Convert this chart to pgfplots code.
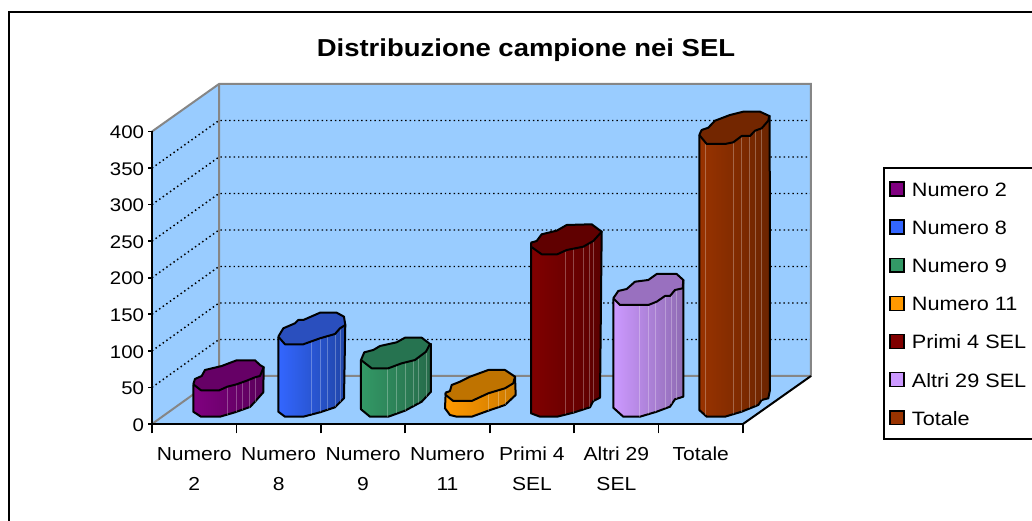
\documentclass[border=0pt]{standalone}
\usepackage{fontspec}
\usepackage{pgfplots}
\pgfplotsset{compat=1.18}
\setmainfont{Liberation Sans}[FakeStretch=1.12]

\definecolor{wall}{HTML}{99CCFF}
\definecolor{edge}{HTML}{868686}
\definecolor{nA}{HTML}{800080}\definecolor{nAd}{HTML}{5A005A}\definecolor{nAt}{HTML}{660066}
\definecolor{nB}{HTML}{3366FF}\definecolor{nBd}{HTML}{2046A8}\definecolor{nBt}{HTML}{2A4FBE}
\definecolor{nC}{HTML}{339966}\definecolor{nCd}{HTML}{266B4A}\definecolor{nCt}{HTML}{267350}
\definecolor{nD}{HTML}{FF9900}\definecolor{nDd}{HTML}{CC7A00}\definecolor{nDt}{HTML}{BF7300}
\definecolor{nE}{HTML}{800000}\definecolor{nEd}{HTML}{5A0000}\definecolor{nEt}{HTML}{600000}
\definecolor{nF}{HTML}{CC99FF}\definecolor{nFd}{HTML}{8F6BB3}\definecolor{nFt}{HTML}{9970BF}
\definecolor{nG}{HTML}{993300}\definecolor{nGd}{HTML}{6B2400}\definecolor{nGt}{HTML}{732600}

% bars and walls are traced in picture pixels, the px style maps them on the value axes
\pgfplotsset{
  px/.style={x filter/.expression={(x-152)/84.43}, y filter/.expression={(424-y)/0.7313}, forget plot},
  wallface/.style={px, fill=wall, draw=none},
  walledge/.style={px, draw=edge, line width=1.5pt},
  griddot/.style={px, black, line width=1.1pt, dash pattern=on 1.1pt off 2.2pt},
  side/.style 2 args={px, left color=#1, right color=#2, draw=black, line width=1.5pt, line join=round},
  cap/.style={px, fill=#1, draw=black, line width=1.5pt, line join=round},
  facet/.style={px, draw=#1, line width=0.45pt, opacity=0.28},
}
\newcommand{\fct}[4]{\addplot[facet=#1] coordinates {(#2,#3) (#2,#4)};}

\begin{document}
\begin{tikzpicture}
\useasboundingbox (0,0) rectangle (774pt,390.75pt);
\draw[black, line width=1.6pt] (7pt,-20pt) rectangle (790pt,381.5pt);
\node[font=\bfseries\fontsize{18.4pt}{20pt}\selectfont, anchor=center] at (394.5pt,353pt) {Distribuzione campione nei SEL};
\begin{axis}[
  at={(114pt,72.75pt)}, anchor=south west,
  scale only axis, width=443.25pt, height=219.4pt,
  xmin=0, xmax=7, ymin=0, ymax=400,
  clip=false, axis on top,
  axis lines=left, axis line style={-, black, line width=1.5pt},
  xtick={0.5,1.5,2.5,3.5,4.5,5.5,6.5},
  xticklabels={{Numero\\2},{Numero\\8},{Numero\\9},{Numero\\11},{Primi 4\\SEL},{Altri 29\\SEL},{Totale}},
  minor xtick={0,1,2,3,4,5,6,7},
  ytick={0,50,100,150,200,250,300,350,400},
  tick align=outside,
  tick style={black, line width=1.2pt},
  major tick length=3pt,
  minor tick length=7pt,
  x tick style={draw=none},
  minor x tick style={draw=black, line width=1.2pt},
  x tick label style={align=center, anchor=north, yshift=-11pt, font=\fontsize{14.1pt}{22.5pt}\selectfont},
  y tick label style={font=\fontsize{13.7pt}{15pt}\selectfont, xshift=0.6pt, yshift=-0.7pt},
  /pgf/number format/assume math mode=true,
  legend style={at={(1.2369,0.878)}, anchor=north west, draw=black, line width=1.2pt,
    font=\fontsize{14.5pt}{15pt}\selectfont, row sep=11.6pt, inner ysep=7.3pt, inner xsep=4pt,
    fill=white, cells={anchor=west}, column sep=3.5pt, nodes={text height=12pt, text depth=1pt}},
  legend image code/.code={\draw[#1, draw=black, line width=1.1pt] (0,-5.2pt) rectangle (10.5pt,5.2pt);},
]
% floor, left wall, back wall
\addplot[wallface] coordinates {(152,424) (219,376) (811,376) (743,424) (152,424)};
\addplot[wallface] coordinates {(152,424) (219,376) (219,84) (152,131.5) (152,424)};
\addplot[wallface] coordinates {(219,376) (811,376) (811,84) (219,84) (219,376)};
% gridlines
\addplot[griddot] coordinates {(152,387.4) (219,339.5) (811,339.5)};
\addplot[griddot] coordinates {(152,350.9) (219,303) (811,303)};
\addplot[griddot] coordinates {(152,314.3) (219,266.5) (811,266.5)};
\addplot[griddot] coordinates {(152,277.7) (219,230) (811,230)};
\addplot[griddot] coordinates {(152,241.2) (219,193.5) (811,193.5)};
\addplot[griddot] coordinates {(152,204.6) (219,157) (811,157)};
\addplot[griddot] coordinates {(152,168.1) (219,120.5) (811,120.5)};
% wall edges
\addplot[walledge] coordinates {(152,131.5) (219,84) (811,84) (811,376) (219,376) (219,84)};
\addplot[walledge] coordinates {(152,424) (219,376)};
\addplot[px, black, line width=1.5pt] coordinates {(743,424) (811,376)};

% Numero 2
\addplot[side={nA}{nAd}] coordinates {(193.3,384.3) (193.3,411.7) (201,416.7) (220,416.7) (235,412.3) (250,407) (255,401.7) (263.3,392.3) (263.7,367.3) (193.3,384.3)};
\fct{white}{227}{386.7}{414.6}
\fct{white}{236}{384.3}{412}
\fct{white}{242}{382.5}{410}
\fct{white}{249}{380}{408}
\fct{white}{255}{377.3}{401.7}
\addplot[cap=nAt] coordinates {(193.3,384.3) (195,379) (201.7,376) (205,370) (221.7,366) (236.7,360.3) (255,360.3) (260,365) (263.7,367.3) (260,376) (255,377.3) (246.7,380.7) (236.7,384.3) (227.3,386.7) (219.3,390.3) (201,390.3) (193.3,384.3)};
% Numero 8
\addplot[side={nB}{nBd}] coordinates {(278.3,336.7) (278.3,411.7) (285,416.7) (303.3,416.7) (320,412.3) (335,407.3) (344,398.3) (345.3,325) (278.3,336.7)};
\fct{white}{311.7}{341.5}{414.5}
\fct{white}{320}{338.3}{412.3}
\fct{white}{327.3}{336}{410}
\fct{white}{335}{334}{407.3}
\fct{white}{340}{328.3}{402}
\addplot[cap=nBt] coordinates {(278.3,336.7) (283.3,328.3) (295,323.3) (298.3,320) (303.3,320) (320,312.7) (336.7,312.7) (344,316.7) (345.3,325) (340,328.3) (335,334) (320,338.3) (303.3,344.3) (285,344.3) (278.3,336.7)};
% Numero 9
\addplot[side={nC}{nCd}] coordinates {(361,360) (361,409.3) (370,416.7) (388.3,416.7) (405,410.7) (421.7,401.7) (431,391.7) (431,344) (361,360)};
\fct{white}{387.7}{368}{416.7}
\fct{white}{396.7}{365}{413.5}
\fct{white}{405}{362}{410.7}
\fct{white}{413.3}{360}{406}
\fct{white}{418.3}{356}{403.5}
\fct{white}{426}{352}{397}
\addplot[cap=nCt] coordinates {(361,360) (364.3,352.3) (373.3,350) (380,346) (396.7,342.3) (405,337.7) (421.7,337.7) (430,344) (426,351.7) (415,360) (401.7,363.3) (388.3,368.3) (371.7,368.3) (361,360)};
% Numero 11
\addplot[side={nD}{nDd}] coordinates {(445.7,392.7) (445,408.3) (450,415) (456.7,416.7) (471.7,416.7) (488.3,410.7) (505,405) (515.7,395) (515,376.7) (445.7,392.7)};
\fct{white}{488.3}{393.3}{410.7}
\fct{white}{498.3}{390}{407}
\fct{white}{505}{388.3}{405}
\addplot[cap=nDt] coordinates {(445.7,392.7) (450,391) (451.7,385) (460,381.7) (470,376.7) (488.3,370) (505,370) (515,376.7) (513.3,383.3) (505,388.3) (488.3,393.3) (471.7,401) (453.3,401) (445.7,395) (445.7,392.7)};
% Primi 4 SEL
\addplot[side={nE}{nEd}] coordinates {(531,242.7) (531,413.3) (540,416.7) (557.3,416.7) (573.3,412.7) (590,407.3) (593.3,401) (600,397.7) (601.7,231.7) (531,242.7)};
\fct{white}{565.7}{250.2}{414}
\fct{white}{573.3}{248.5}{412.7}
\fct{white}{583.3}{246.7}{409.5}
\fct{white}{589.3}{243}{407.5}
\fct{white}{593.3}{241}{401}
\addplot[cap=nEt] coordinates {(531,242.7) (536.7,241) (541.7,234.3) (556.7,230.7) (566.7,225) (591.7,224.3) (601.7,231.7) (593.3,241) (583.3,246.7) (566.7,250) (557.3,254.3) (541.7,254.3) (531,246.7) (531,242.7)};
% Altri 29 SEL
\addplot[side={nF}{nFd}] coordinates {(613.3,298.3) (613.3,407.7) (623.3,416.7) (640,416.7) (656.7,411.7) (670,406.7) (675,399.3) (683.3,396.7) (683.3,280) (613.3,298.3)};
\fct{white}{639}{305}{416.7}
\fct{white}{648.3}{305}{414}
\fct{white}{655.7}{302}{412}
\fct{white}{665}{296}{408}
\fct{white}{671.7}{293}{404}
\fct{white}{676.7}{289.5}{398.8}
\addplot[cap=nFt] coordinates {(613.3,298.3) (618.3,291) (626.7,289) (635,281.7) (648.3,280) (656.7,274) (676.7,274) (683.3,280) (682.7,288.3) (675,290) (670,296) (665,296) (656.7,301.7) (648.3,305) (620,305) (613.3,298.3)};
% Totale
\addplot[side={nG}{nGd}] coordinates {(699.3,135) (699.3,410) (706.7,416.7) (725,416.7) (741.7,411.7) (758.3,405) (761.7,400) (768.3,398.3) (770,390) (769.7,116) (699.3,135)};
\fct{white}{705}{140}{415}
\fct{white}{733.3}{142.3}{414}
\fct{white}{741.7}{136}{411.7}
\fct{white}{749.3}{136}{408.5}
\fct{white}{755.3}{130.7}{406}
\fct{white}{761.7}{128.3}{400}
\addplot[cap=nGt] coordinates {(699.3,135) (701.7,130) (708.3,127.7) (715,120.7) (730,115) (743.3,111.7) (760,111.7) (769.3,116) (768.3,120.7) (761.7,128.3) (755,130.7) (750,136) (741.7,136) (733.3,142.3) (725,144) (706.7,144) (699.3,135)};

\addlegendimage{fill=nA}
\addlegendentry{\makebox[130pt][l]{Numero 2}}
\addlegendimage{fill=nB}
\addlegendentry{\makebox[130pt][l]{Numero 8}}
\addlegendimage{fill=nC}
\addlegendentry{\makebox[130pt][l]{Numero 9}}
\addlegendimage{fill=nD}
\addlegendentry{\makebox[130pt][l]{Numero 11}}
\addlegendimage{fill=nE}
\addlegendentry{\makebox[130pt][l]{Primi 4 SEL}}
\addlegendimage{fill=nF}
\addlegendentry{\makebox[130pt][l]{Altri 29 SEL}}
\addlegendimage{fill=nG}
\addlegendentry{\makebox[130pt][l]{Totale}}
\end{axis}
\end{tikzpicture}
\end{document}
